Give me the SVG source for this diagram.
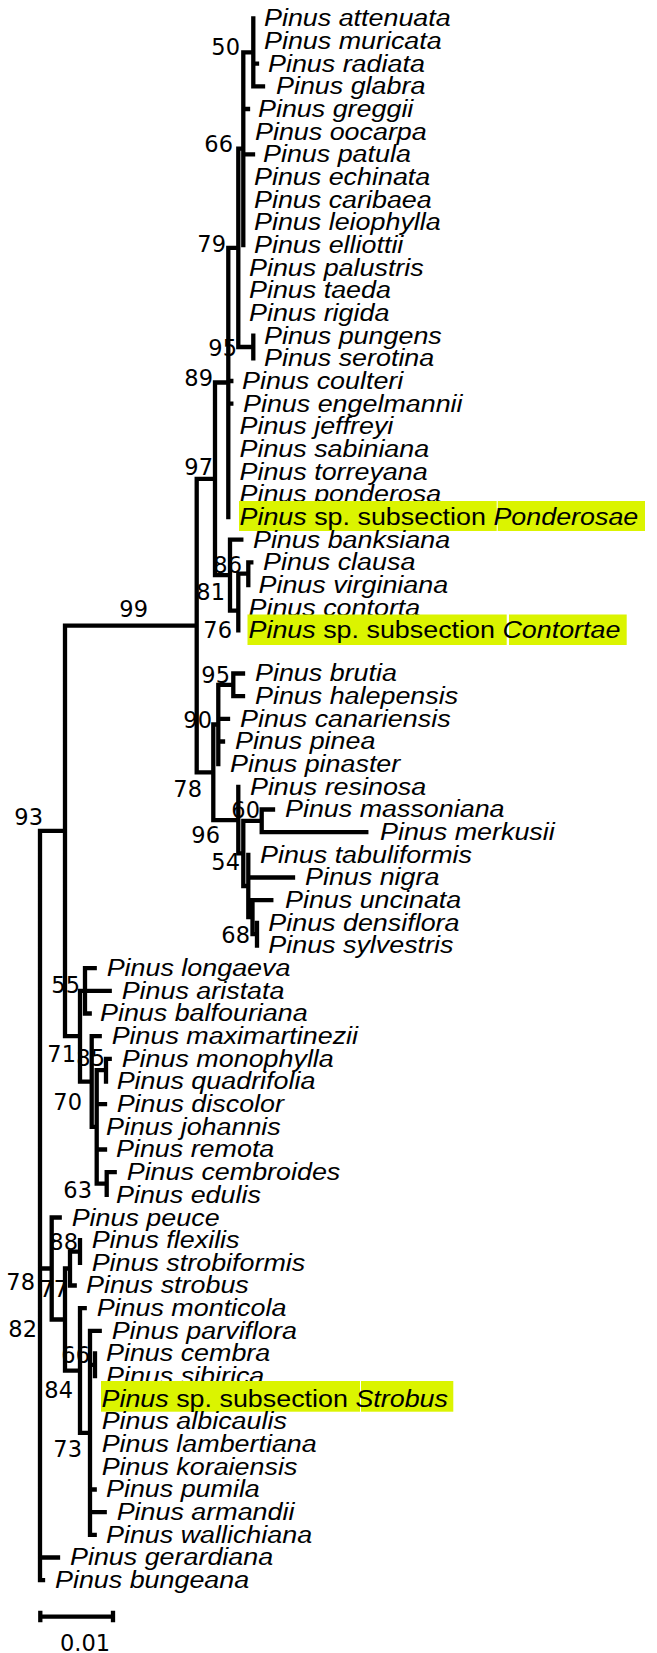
<svg xmlns="http://www.w3.org/2000/svg" width="657" height="1653" viewBox="0 0 657 1653">
<style>
.t{font-family:"Liberation Sans",Arial,sans-serif;font-size:24px;font-style:italic;fill:#000;transform:scaleX(1.12)}
.u{font-style:normal}
.s{font-family:"DejaVu Sans",sans-serif;font-size:22.5px;fill:#000;text-anchor:end}
.br{fill:none;stroke:#000;stroke-width:4.3;stroke-linecap:square}
.hl{fill:#dbf400}
</style>
<rect width="657" height="1653" fill="#fff"/>
<g id="connectors">
<path class="br" d="M253.3,18.3 V86.3 M243.3,52.3 H253.3 M253.3,63.6 H257 M253.3,86.3 H263
M243.3,52.3 V245 M243.3,109 H248 M243.3,154.3 H253 M238.3,148.7 H243.3
M238.3,148.7 V347 M238.3,347 H253.3 M228.3,247.9 H238.3
M253.3,335.7 V358.4
M228.3,247.9 V517 M228.3,381 H231.3 M228.3,403.7 H231.3 M215,382.5 H228.3
M215,382.5 V575.1 M215,575.1 H230 M196.7,478.8 H215
M230,539.7 V610.6 M230,539.7 H241.3 M230,610.6 H238.3
M238.3,573.7 V630.4 M238.3,573.7 H248.3
M248.3,562.4 V585 M248.3,562.4 H251.3
M196.7,478.8 V772.3 M65,625.6 H196.7 M196.7,772.3 H213.3
M213.3,724.5 V820.1 M213.3,724.5 H218.3 M213.3,820.1 H238.3
M218.3,684.9 V764.2 M218.3,684.9 H233.3 M218.3,718.8 H228 M218.3,741.5 H223
M233.3,673.5 V696.2 M233.3,673.5 H243 M233.3,696.2 H243
M238.3,786.8 V853.4 M238.3,853.4 H243.3
M243.3,820.9 V886 M243.3,820.9 H261.7 M243.3,886 H248.3
M261.7,809.5 V832.2 M261.7,809.5 H273 M261.7,832.2 H366.3
M248.3,854.8 V917.2 M248.3,877.5 H293 M248.3,917.2 H252.5
M252.5,900.2 V934.2 M252.5,900.2 H271.3 M252.5,934.2 H257
M257,922.8 V945.5
M65,625.6 V1036.2 M40,830.9 H65 M65,1036.2 H80
M80,990.9 V1081.6 M80,990.9 H85 M80,1081.6 H91.7
M85,968.2 V1013.5 M85,968.2 H94.7 M85,990.9 H109.7 M85,1013.5 H89.7
M91.7,1036.2 V1126.9 M91.7,1036.2 H99.7 M91.7,1126.9 H96.7
M96.7,1070.2 V1183.6 M96.7,1070.2 H106 M96.7,1104.2 H105 M96.7,1149.5 H105 M96.7,1183.6 H106.7
M106,1058.9 V1081.5 M106,1058.9 H109.7
M106.7,1172.2 V1194.9 M106.7,1172.2 H114.7
M40,830.9 V1580.2 M40,1268.5 H51.7 M40,1557.5 H58 M40,1580.2 H43
M51.7,1217.5 V1319.5 M51.7,1217.5 H59.7 M51.7,1319.5 H65
M65,1268.5 V1370.6 M65,1268.5 H70 M65,1370.6 H80
M70,1251.6 V1285.5 M70,1251.6 H80 M70,1285.5 H74.7
M80,1240.2 V1262.9
M80,1308.2 V1432.9 M80,1308.2 H84.7 M80,1432.9 H90
M90,1330.9 V1534.9 M90,1330.9 H99.7 M90,1364.9 H95 M90,1489.5 H94.7 M90,1512.2 H104.7 M90,1534.9 H94.7
M95,1353.5 V1376.2"/>
</g>
<g id="scalebar">
<path class="br" d="M40.3,1616.7 H113 M40.3,1613 V1620 M113,1613 V1620"/>
<text class="s" x="85" y="1651" style="text-anchor:middle">0.01</text>
</g>
<g id="support">
<text class="s" x="240" y="55">50</text>
<text class="s" x="233" y="151.5">66</text>
<text class="s" x="226" y="252">79</text>
<text class="s" x="237" y="356">95</text>
<text class="s" x="213" y="386">89</text>
<text class="s" x="213" y="475">97</text>
<text class="s" x="242" y="573">86</text>
<text class="s" x="225" y="600">81</text>
<text class="s" x="232" y="638">76</text>
<text class="s" x="148" y="617">99</text>
<text class="s" x="230" y="683">95</text>
<text class="s" x="212" y="728">90</text>
<text class="s" x="202" y="797">78</text>
<text class="s" x="260" y="818">60</text>
<text class="s" x="220" y="843">96</text>
<text class="s" x="240" y="870">54</text>
<text class="s" x="250" y="943">68</text>
<text class="s" x="43" y="825">93</text>
<text class="s" x="80" y="993">55</text>
<text class="s" x="76" y="1062">71</text>
<text class="s" x="105" y="1066">85</text>
<text class="s" x="82" y="1110">70</text>
<text class="s" x="92" y="1198">63</text>
<text class="s" x="78" y="1250">88</text>
<text class="s" x="35" y="1290">78</text>
<text class="s" x="68" y="1297">77</text>
<text class="s" x="37" y="1337">82</text>
<text class="s" x="90" y="1363">66</text>
<text class="s" x="73" y="1398">84</text>
<text class="s" x="82" y="1457">73</text>
</g>
<g id="t-attenuata"><text class="t" x="235.71" y="26.3">Pinus attenuata</text></g>
<g id="t-muricata"><text class="t" x="235.71" y="49">Pinus muricata</text></g>
<g id="t-radiata"><text class="t" x="239.29" y="71.6">Pinus radiata</text></g>
<g id="t-glabra"><text class="t" x="246.43" y="94.3">Pinus glabra</text></g>
<g id="t-greggii"><text class="t" x="230.36" y="117">Pinus greggii</text></g>
<g id="t-oocarpa"><text class="t" x="227.68" y="139.7">Pinus oocarpa</text></g>
<g id="t-patula"><text class="t" x="234.82" y="162.3">Pinus patula</text></g>
<g id="t-echinata"><text class="t" x="226.79" y="185">Pinus echinata</text></g>
<g id="t-caribaea"><text class="t" x="226.79" y="207.7">Pinus caribaea</text></g>
<g id="t-leiophylla"><text class="t" x="226.79" y="230.3">Pinus leiophylla</text></g>
<g id="t-elliottii"><text class="t" x="226.79" y="253">Pinus elliottii</text></g>
<g id="t-palustris"><text class="t" x="222.32" y="275.7">Pinus palustris</text></g>
<g id="t-taeda"><text class="t" x="222.32" y="298.3">Pinus taeda</text></g>
<g id="t-rigida"><text class="t" x="222.32" y="321">Pinus rigida</text></g>
<g id="t-pungens"><text class="t" x="235.71" y="343.7">Pinus pungens</text></g>
<g id="t-serotina"><text class="t" x="235.71" y="366.4">Pinus serotina</text></g>
<g id="t-coulteri"><text class="t" x="216.07" y="389">Pinus coulteri</text></g>
<g id="t-engelmannii"><text class="t" x="216.96" y="411.7">Pinus engelmannii</text></g>
<g id="t-jeffreyi"><text class="t" x="213.84" y="434.4">Pinus jeffreyi</text></g>
<g id="t-sabiniana"><text class="t" x="213.84" y="457">Pinus sabiniana</text></g>
<g id="t-torreyana"><text class="t" x="213.84" y="479.7">Pinus torreyana</text></g>
<g id="t-ponderosa"><text class="t" x="213.84" y="502.4">Pinus ponderosa</text></g>
<g id="t-ponderosae"><rect class="hl" x="239" y="501" width="257.7" height="30"/><rect class="hl" x="497.7" y="501" width="147.3" height="30"/><text class="t" x="213.84" y="525">Pinus<tspan class="u"> sp. subsection </tspan>Ponderosae</text></g>
<g id="t-banksiana"><text class="t" x="225.89" y="547.7">Pinus banksiana</text></g>
<g id="t-clausa"><text class="t" x="234.82" y="570.4">Pinus clausa</text></g>
<g id="t-virginiana"><text class="t" x="230.8" y="593">Pinus virginiana</text></g>
<g id="t-contorta"><text class="t" x="221.88" y="615.7">Pinus contorta</text></g>
<g id="t-contortae"><rect class="hl" x="247.5" y="614.5" width="259.2" height="30.5"/><rect class="hl" x="509" y="614.5" width="117.7" height="30.5"/><text class="t" x="221.88" y="638.4">Pinus<tspan class="u"> sp. subsection </tspan>Contortae</text></g>
<g id="t-brutia"><text class="t" x="227.68" y="681.5">Pinus brutia</text></g>
<g id="t-halepensis"><text class="t" x="227.68" y="704.2">Pinus halepensis</text></g>
<g id="t-canariensis"><text class="t" x="214.29" y="726.8">Pinus canariensis</text></g>
<g id="t-pinea"><text class="t" x="209.82" y="749.5">Pinus pinea</text></g>
<g id="t-pinaster"><text class="t" x="205.36" y="772.2">Pinus pinaster</text></g>
<g id="t-resinosa"><text class="t" x="223.21" y="794.8">Pinus resinosa</text></g>
<g id="t-massoniana"><text class="t" x="254.46" y="817.5">Pinus massoniana</text></g>
<g id="t-merkusii"><text class="t" x="339.29" y="840.2">Pinus merkusii</text></g>
<g id="t-tabuliformis"><text class="t" x="232.14" y="862.8">Pinus tabuliformis</text></g>
<g id="t-nigra"><text class="t" x="272.32" y="885.5">Pinus nigra</text></g>
<g id="t-uncinata"><text class="t" x="254.46" y="908.2">Pinus uncinata</text></g>
<g id="t-densiflora"><text class="t" x="239.55" y="930.8">Pinus densiflora</text></g>
<g id="t-sylvestris"><text class="t" x="239.55" y="953.5">Pinus sylvestris</text></g>
<g id="t-longaeva"><text class="t" x="95.27" y="976.2">Pinus longaeva</text></g>
<g id="t-aristata"><text class="t" x="108.66" y="998.9">Pinus aristata</text></g>
<g id="t-balfouriana"><text class="t" x="89.29" y="1021.5">Pinus balfouriana</text></g>
<g id="t-maximartinezii"><text class="t" x="99.73" y="1044.2">Pinus maximartinezii</text></g>
<g id="t-monophylla"><text class="t" x="108.66" y="1066.9">Pinus monophylla</text></g>
<g id="t-quadrifolia"><text class="t" x="104.2" y="1089.5">Pinus quadrifolia</text></g>
<g id="t-discolor"><text class="t" x="104.2" y="1112.2">Pinus discolor</text></g>
<g id="t-johannis"><text class="t" x="94.64" y="1134.9">Pinus johannis</text></g>
<g id="t-remota"><text class="t" x="103.57" y="1157.5">Pinus remota</text></g>
<g id="t-cembroides"><text class="t" x="113.13" y="1180.2">Pinus cembroides</text></g>
<g id="t-edulis"><text class="t" x="103.57" y="1202.9">Pinus edulis</text></g>
<g id="t-peuce"><text class="t" x="64.02" y="1225.5">Pinus peuce</text></g>
<g id="t-flexilis"><text class="t" x="81.88" y="1248.2">Pinus flexilis</text></g>
<g id="t-strobiformis"><text class="t" x="81.88" y="1270.9">Pinus strobiformis</text></g>
<g id="t-strobus"><text class="t" x="76.79" y="1293.5">Pinus strobus</text></g>
<g id="t-monticola"><text class="t" x="86.34" y="1316.2">Pinus monticola</text></g>
<g id="t-parviflora"><text class="t" x="99.73" y="1338.9">Pinus parviflora</text></g>
<g id="t-cembra"><text class="t" x="94.64" y="1361.5">Pinus cembra</text></g>
<g id="t-sibirica"><text class="t" x="94.64" y="1384.2">Pinus sibirica</text></g>
<g id="t-strobus-sp"><rect class="hl" x="101" y="1381" width="259" height="30.7"/><rect class="hl" x="361" y="1381" width="92.3" height="30.7"/><text class="t" x="90.63" y="1406.9">Pinus<tspan class="u"> sp. subsection </tspan>Strobus</text></g>
<g id="t-albicaulis"><text class="t" x="90.8" y="1429.5">Pinus albicaulis</text></g>
<g id="t-lambertiana"><text class="t" x="90.8" y="1452.2">Pinus lambertiana</text></g>
<g id="t-koraiensis"><text class="t" x="90.8" y="1474.9">Pinus koraiensis</text></g>
<g id="t-pumila"><text class="t" x="94.64" y="1497.5">Pinus pumila</text></g>
<g id="t-armandii"><text class="t" x="104.2" y="1520.2">Pinus armandii</text></g>
<g id="t-wallichiana"><text class="t" x="94.64" y="1542.9">Pinus wallichiana</text></g>
<g id="t-gerardiana"><text class="t" x="62.5" y="1565.5">Pinus gerardiana</text></g>
<g id="t-bungeana"><text class="t" x="49.11" y="1588.2">Pinus bungeana</text></g>
</svg>
